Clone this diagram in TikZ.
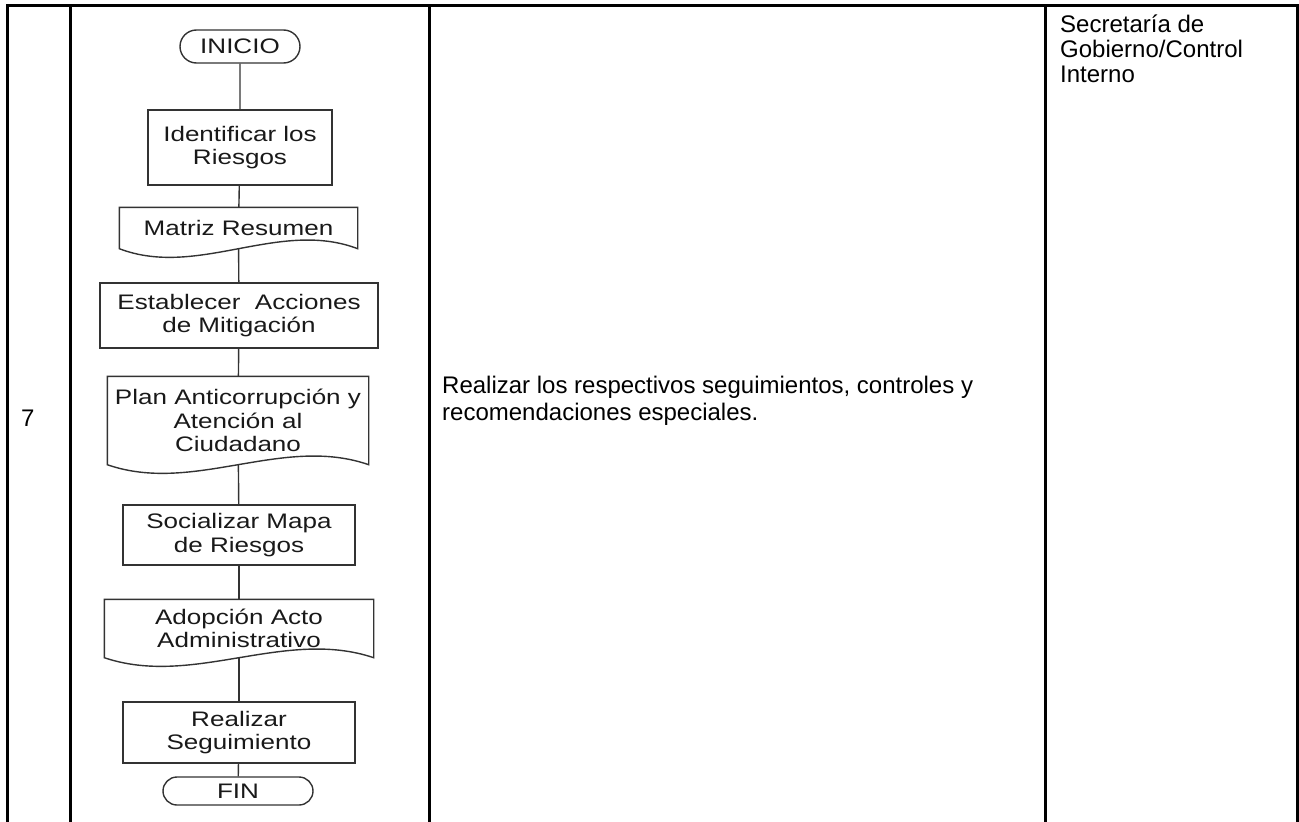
\documentclass[tikz,border=0pt]{standalone}
\usepackage{fontspec}
\setmainfont{Liberation Sans}
\newfontfamily\chartfont[FakeStretch=1.24]{Liberation Sans}
\usetikzlibrary{shapes.misc, calc}

% document symbol: box with a wavy bottom edge
\newcommand{\docwave}[1]{%
  \draw[flow] (#1.south west) -- (#1.north west) -- (#1.north east) -- (#1.south east)
    .. controls ($(#1.south east)!0.33!(#1.south west)+(0,-30)$)
    and ($(#1.south west)!0.33!(#1.south east)+(0,30)$) .. cycle;}

\begin{document}
\begin{tikzpicture}[x=1pt, y=-1pt,
  grid/.style={line width=3pt, line join=miter},
  flow/.style={draw=black!80, line width=1.4pt},
  stepbox/.style={flow, align=center, inner sep=0pt, text=black!90, font=\chartfont\fontsize{21}{23.5}\selectfont},
  docbox/.style={stepbox, draw=none},
  terminal/.style={stepbox, rounded rectangle},
  cell/.style={align=left, inner sep=0pt, font=\fontsize{24}{27}\selectfont}
]
  \useasboundingbox (0,0) rectangle (1299,822);

  % Define X coordinates for table columns
  \def\lX{7}
  \def\aX{70}
  \def\bX{429}
  \def\cX{1045}
  \def\rX{1297}

  % Draw table grid
  \draw[grid] (\lX,822) -- (\lX,5) -- (\rX,5) -- (\rX,822);
  \draw[grid] (\aX,5) -- (\aX,822);
  \draw[grid] (\bX,5) -- (\bX,822);
  \draw[grid] (\cX,5) -- (\cX,822);

  % Cell texts
  \node[cell, anchor=base west] (num) at (21,426) {7};
  \node[cell, anchor=north west] (tarea) at (442,375.5) {Realizar los respectivos seguimientos, controles y\\recomendaciones especiales.};
  \node[cell, anchor=north west, font=\fontsize{24}{25}\selectfont] (resp) at (1060,14.5) {Secretaría de\\Gobierno/Control\\Interno};

  % Flowchart nodes
  \node[terminal, minimum width=120pt, minimum height=33pt] (inicio) at (240,46.5) {INICIO};
  \node[stepbox, minimum width=184pt, minimum height=75pt] (ident) at (240,147.5) {Identificar los\\Riesgos};
  \node[docbox, minimum width=237pt, minimum height=40pt] (matriz) at (238.5,228) {Matriz Resumen};
  \node[stepbox, minimum width=278pt, minimum height=65pt] (accion) at (239,315.5) {Establecer\ \ Acciones\\de Mitigación};
  \node[docbox, minimum width=260pt, minimum height=87pt] (plan) at (238,420.5) {Plan Anticorrupción y\\Atención al\\Ciudadano};
  \node[stepbox, minimum width=232pt, minimum height=60pt] (mapa) at (239,535) {Socializar Mapa\\de Riesgos};
  \node[docbox, minimum width=268pt, minimum height=57pt] (acto) at (239,628.5) {Adopción Acto\\Administrativo};
  \node[stepbox, minimum width=232pt, minimum height=61pt] (segui) at (239,732.5) {Realizar\\Seguimiento};
  \node[terminal, minimum width=150pt, minimum height=28pt] (fin) at (238,791) {FIN};

  % Document outlines
  \docwave{matriz}
  \docwave{plan}
  \docwave{acto}

  % Connectors
  \draw[flow] (inicio) -- (ident);
  \draw[flow] (ident) -- (matriz);
  \draw[flow] (matriz) -- (accion);
  \draw[flow] (accion) -- (plan);
  \draw[flow] (plan) -- (mapa);
  \draw[flow] (mapa) -- (acto);
  \draw[flow] (acto) -- (segui);
  \draw[flow] (segui) -- (fin);

\end{tikzpicture}
\end{document}
